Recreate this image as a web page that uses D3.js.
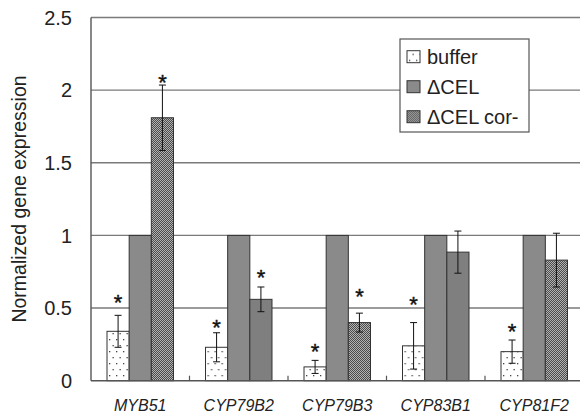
<!DOCTYPE html>
<html>
<head>
<meta charset="utf-8">
<script src="https://cdn.jsdelivr.net/npm/d3@7"></script>
<style>
  body { margin: 0; background: #fff; }
  svg { display: block; }
</style>
</head>
<body>
<script>
var width = 580
var height = 414

// data
var genes = ['MYB51', 'CYP79B2', 'CYP79B3', 'CYP83B1', 'CYP81F2']
var seriesNames = ['buffer', '\u0394CEL', '\u0394CEL cor-']
var bufferMean = [0.34, 0.23, 0.095, 0.24, 0.2]
var bufferErr = [0.11, 0.1, 0.045, 0.16, 0.08]
var celMean = [1, 1, 1, 1, 1]
var corMean = [1.81, 0.56, 0.4, 0.885, 0.83]
var corErr = [0.225, 0.085, 0.065, 0.145, 0.185]
var bufferStar = [0.576, 0.404, 0.239, 0.559, 0.377]
var corStar = [2.09, 0.748, 0.614, null, null]
var yTicks = [0, 0.5, 1, 1.5, 2, 2.5]
var yTickLabels = ['0', '0.5', '1', '1.5', '2', '2.5']

var margin = { left: 91, top: 17.5, bottom: 33.3 }
var plotRight = 583.5

var svg = d3.select('body').append('svg')
  .attr('width', width)
  .attr('height', height)

// fill patterns
var defs = svg.append('defs')

var dots = defs.append('pattern')
  .attr('id', 'dots')
  .attr('patternUnits', 'userSpaceOnUse')
  .attr('width', 7)
  .attr('height', 12)
dots.append('rect').attr('width', 7).attr('height', 12).attr('fill', '#fff')
dots.append('rect').attr('x', 2).attr('y', 3).attr('width', 1.3).attr('height', 1.3).attr('fill', '#444')
dots.append('rect').attr('x', 5.5).attr('y', 9).attr('width', 1.3).attr('height', 1.3).attr('fill', '#444')

var checks = defs.append('pattern')
  .attr('id', 'checks')
  .attr('patternUnits', 'userSpaceOnUse')
  .attr('width', 2)
  .attr('height', 2)
checks.append('rect').attr('width', 2).attr('height', 2).attr('fill', '#b4b4b4')
checks.append('rect').attr('width', 1).attr('height', 1).attr('fill', '#4a4a4a')
checks.append('rect').attr('x', 1).attr('y', 1).attr('width', 1).attr('height', 1).attr('fill', '#4a4a4a')

var fills = ['url(#dots)', '#8a8a8a', 'url(#checks)']

var x0 = d3.scaleBand()
  .domain(genes)
  .range([margin.left, plotRight])
  .paddingInner(0.325)
  .paddingOuter(0.1625)

var x1 = d3.scaleBand()
  .domain(seriesNames)
  .range([0, x0.bandwidth()])

var y = d3.scaleLinear()
  .domain([0, 2.5])
  .range([height - margin.bottom, margin.top])

// gridlines
svg.append('g')
  .selectAll('line')
  .data(yTicks.slice(1))
  .enter()
  .append('line')
  .attr('x1', margin.left)
  .attr('x2', width)
  .attr('y1', (d) => y(d))
  .attr('y2', (d) => y(d))
  .style('stroke', '#7a7a7a')
  .style('stroke-width', 1.4)

// y tick labels
svg.append('g')
  .selectAll('text')
  .data(yTicks)
  .enter()
  .append('text')
  .attr('x', 72)
  .attr('y', (d) => y(d))
  .attr('dy', '0.36em')
  .attr('text-anchor', 'end')
  .style('font-family', 'Liberation Sans, Arial, sans-serif')
  .style('font-size', '20px')
  .style('fill', '#222')
  .text((d, i) => yTickLabels[i])

// y axis title
svg.append('text')
  .attr('transform', 'translate(26,199) rotate(-90)')
  .attr('text-anchor', 'middle')
  .style('font-family', 'Liberation Sans, Arial, sans-serif')
  .style('font-size', '19.5px')
  .style('fill', '#222')
  .text('Normalized gene expression')

// bars
var rows = genes.map((g, i) => ({
  gene: g,
  values: [
    { s: seriesNames[0], v: bufferMean[i], err: bufferErr[i], star: bufferStar[i], fill: fills[0] },
    { s: seriesNames[1], v: celMean[i], err: null, star: null, fill: fills[1] },
    { s: seriesNames[2], v: corMean[i], err: corErr[i], star: corStar[i], fill: fills[2] }
  ]
}))

var groups = svg.append('g')
  .selectAll('g')
  .data(rows)
  .enter()
  .append('g')
  .attr('transform', (d) => 'translate(' + x0(d.gene) + ',0)')

groups.selectAll('rect')
  .data((d) => d.values)
  .enter()
  .append('rect')
  .attr('x', (d) => x1(d.s))
  .attr('y', (d) => y(d.v))
  .attr('width', x1.bandwidth())
  .attr('height', (d) => y(0) - y(d.v))
  .style('fill', (d) => d.fill)
  .style('stroke', '#333')
  .style('stroke-width', 1)

// error bars
var errs = groups.selectAll('g.err')
  .data((d) => d.values.filter((v) => v.err != null))
  .enter()
  .append('g')
  .attr('class', 'err')
  .style('stroke', '#111')
  .style('stroke-width', 1)

errs.append('line')
  .attr('x1', (d) => x1(d.s) + x1.bandwidth() / 2)
  .attr('x2', (d) => x1(d.s) + x1.bandwidth() / 2)
  .attr('y1', (d) => y(d.v + d.err))
  .attr('y2', (d) => y(d.v - d.err))
errs.selectAll('line.cap')
  .data((d) => [d.v + d.err, d.v - d.err].map((e) => ({ e: e, s: d.s })))
  .enter()
  .append('line')
  .attr('class', 'cap')
  .attr('x1', (d) => x1(d.s) + x1.bandwidth() / 2 - 3.5)
  .attr('x2', (d) => x1(d.s) + x1.bandwidth() / 2 + 3.5)
  .attr('y1', (d) => y(d.e))
  .attr('y2', (d) => y(d.e))

// significance stars
groups.selectAll('text.star')
  .data((d) => d.values.filter((v) => v.star != null))
  .enter()
  .append('text')
  .attr('class', 'star')
  .attr('x', (d) => x1(d.s) + x1.bandwidth() / 2)
  .attr('y', (d) => y(d.star) + 13)
  .attr('text-anchor', 'middle')
  .style('font-family', 'Liberation Sans, Arial, sans-serif')
  .style('font-size', '22px')
  .style('stroke', '#111')
  .style('stroke-width', 0.4)
  .style('fill', '#111')
  .text('*')

// axes lines
svg.append('line')
  .attr('x1', margin.left)
  .attr('x2', margin.left)
  .attr('y1', y(2.5))
  .attr('y2', y(0))
  .style('stroke', '#555')
  .style('stroke-width', 1.4)

svg.append('line')
  .attr('x1', margin.left)
  .attr('x2', width)
  .attr('y1', y(0))
  .attr('y2', y(0))
  .style('stroke', '#555')
  .style('stroke-width', 1.4)

// x ticks between categories
svg.append('g')
  .selectAll('line')
  .data(genes.slice(1))
  .enter()
  .append('line')
  .attr('x1', (d) => x0(d) - x0.step() * x0.paddingInner() / 2)
  .attr('x2', (d) => x0(d) - x0.step() * x0.paddingInner() / 2)
  .attr('y1', y(0))
  .attr('y2', y(0) - 5)
  .style('stroke', '#555')
  .style('stroke-width', 1.2)

// x labels
svg.append('g')
  .selectAll('text')
  .data(genes)
  .enter()
  .append('text')
  .attr('x', (d) => x0(d) + x0.bandwidth() / 2)
  .attr('y', 411)
  .attr('text-anchor', 'middle')
  .style('font-family', 'Liberation Sans, Arial, sans-serif')
  .style('font-size', '16px')
  .style('font-style', 'italic')
  .style('fill', '#222')
  .text((d) => d)

// legend
var legend = svg.append('g')

legend.append('rect')
  .attr('x', 400)
  .attr('y', 39)
  .attr('width', 129)
  .attr('height', 93)
  .style('fill', '#fff')
  .style('stroke', '#555')
  .style('stroke-width', 1.2)

var items = legend.selectAll('g.item')
  .data(seriesNames)
  .enter()
  .append('g')
  .attr('class', 'item')
  .attr('transform', (d, i) => 'translate(407,' + (56.7 + i * 30) + ')')

items.append('rect')
  .attr('x', 0)
  .attr('y', -6)
  .attr('width', 13)
  .attr('height', 12)
  .style('fill', (d, i) => fills[i])
  .style('stroke', '#333')
  .style('stroke-width', 1)

items.append('text')
  .attr('x', 20)
  .attr('y', 7)
  .style('font-family', 'Liberation Sans, Arial, sans-serif')
  .style('font-size', '20px')
  .style('fill', '#222')
  .text((d) => d)
</script>
</body>
</html>
